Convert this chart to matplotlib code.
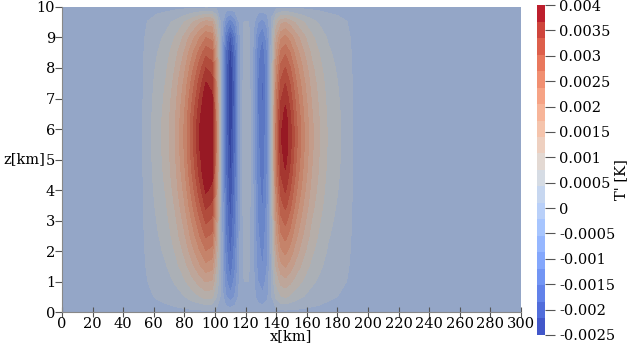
import numpy as np
import matplotlib
matplotlib.use("Agg")
import matplotlib.pyplot as plt
from matplotlib.colors import ListedColormap, BoundaryNorm
from matplotlib.cm import ScalarMappable

plt.rcParams['font.family'] = ['DejaVu Serif']
plt.rcParams['axes.unicode_minus'] = False

# T' at mid height (~z=5.5km), read along x
x_km = [0, 45, 52, 56, 62, 68, 74, 80, 85, 90, 94, 98, 101, 104, 107, 110,
        113, 116, 119, 122, 125, 128, 131, 134, 137, 140, 143, 146, 149, 153,
        158, 163, 168, 174, 180, 186, 191, 196, 300]
t_mid = [0, 0, 0.00005, 0.0003, 0.0006, 0.0009, 0.0014, 0.0021, 0.0029,
         0.0037, 0.0043, 0.0041, 0.0022, 0.0, -0.0017, -0.0026, -0.0017,
         -0.0004, 0.0003, 0.0003, -0.0003, -0.0012, -0.0016, -0.0010, 0.0004,
         0.0025, 0.0036, 0.0039, 0.0035, 0.0028, 0.0021, 0.0015, 0.0011,
         0.0007, 0.0005, 0.0003, 0.00005, 0, 0]

# vertical shape of warm and cool parts
z_km = [0, 0.5, 1, 1.5, 2, 2.5, 3, 3.5, 4, 4.5, 5, 5.5, 6, 6.5, 7, 7.5, 8,
        8.5, 9, 9.5, 10]
warm_env = [0, 0.2, 0.33, 0.45, 0.55, 0.64, 0.72, 0.8, 0.87, 0.93, 0.97, 1.0,
            1.0, 0.97, 0.92, 0.86, 0.78, 0.68, 0.55, 0.36, 0]
cool_env = [0, 0.3, 0.45, 0.55, 0.62, 0.68, 0.73, 0.78, 0.83, 0.87, 0.9, 0.93,
            0.96, 0.99, 1.0, 1.0, 0.97, 0.9, 0.75, 0.45, 0]

cbar_ticks = [0.004, 0.0035, 0.003, 0.0025, 0.002, 0.0015, 0.001, 0.0005, 0,
              -0.0005, -0.001, -0.0015, -0.002, -0.0025]
cbar_labels = ['0.004', '0.0035', '0.003', '0.0025', '0.002', '0.0015',
               '0.001', '0.0005', '0', '-0.0005', '-0.001', '-0.0015',
               '-0.002', '-0.0025']

tp = np.array(t_mid)
field = (np.outer(warm_env, np.clip(tp, 0, None))
         + np.outer(cool_env, np.clip(tp, None, 0)))
field = np.clip(field, -0.0025, 0.004)

levels = np.linspace(-0.0025, 0.004, 21)
base = plt.get_cmap('coolwarm')
mids = (np.arange(20) + 0.5) / 20
bar_cols = base(mids)
plot_cols = bar_cols.copy()
plot_cols[:, :3] *= 0.8   # shaded look of the rendered surface
norm = BoundaryNorm(levels, 20)

fs = 10.5
fig = plt.figure(figsize=(6.32, 3.48), dpi=100)
ax = fig.add_axes([0.0981, 0.1034, 0.7263, 0.8765])
ax.contourf(x_km, z_km, field, levels=levels, colors=plot_cols)
ax.set_xlim(0, 300)
ax.set_ylim(0, 10)
ax.set_xticks(range(0, 301, 20))
ax.set_yticks(range(0, 11))
for s in ['top', 'right']:
    ax.spines[s].set_visible(False)
for s in ['left', 'bottom']:
    ax.spines[s].set_color('#888888')
    ax.spines[s].set_linewidth(0.8)
ax.tick_params(axis='x', direction='inout', length=7, width=0.8,
               color='#555555', labelsize=fs, pad=0)
ax.tick_params(axis='y', direction='out', length=5, width=0.8,
               color='#555555', labelsize=fs, pad=0)
ax.set_xlabel('x[km]', fontsize=fs, va='center')
ax.set_ylabel('z[km]', fontsize=fs, rotation=0, ha='right', va='center')
ax.yaxis.set_label_coords(-0.037, 0.5)
ax.xaxis.set_label_coords(0.5, -0.08)

cax = fig.add_axes([0.8497, 0.0374, 0.0127, 0.9482])
sm = ScalarMappable(norm=norm, cmap=ListedColormap(bar_cols))
cb = fig.colorbar(sm, cax=cax, ticks=cbar_ticks)
cb.set_ticklabels(cbar_labels)
cb.outline.set_visible(False)
cax.minorticks_off()
cax.tick_params(direction='out', length=7, width=0.8, color='#555555',
                labelsize=fs, pad=3)
cb.set_label("T' [K]", fontsize=fs, va='center')
cax.yaxis.set_label_coords(10.5, 0.47)

fig.savefig('out.png', dpi=100)
